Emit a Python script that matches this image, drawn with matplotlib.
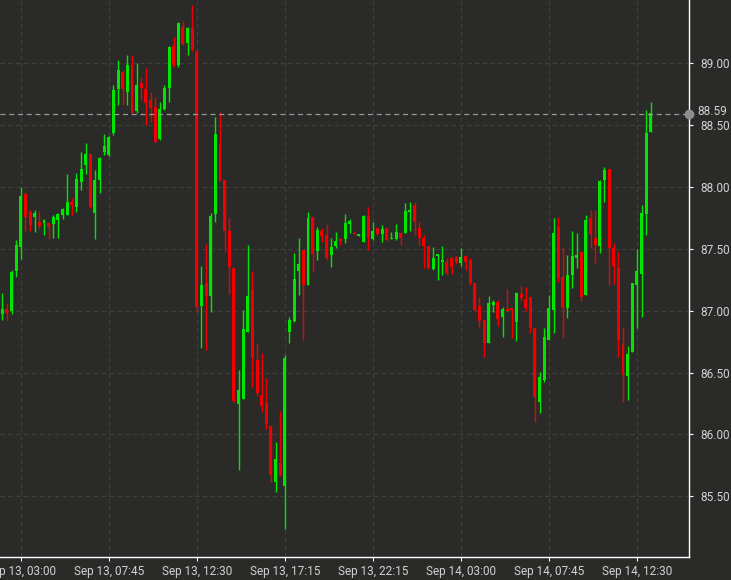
import matplotlib
matplotlib.use("Agg")
import matplotlib.pyplot as plt
import numpy as np

plt.rcParams['font.family'] = ['Roboto', 'DejaVu Sans']

opens = [86.97, 87.013, 86.997, 87.32, 87.516, 87.942, 87.80, 87.759, 87.718, 87.705,
         87.705, 87.697, 87.732, 87.772, 87.772, 87.88, 87.84, 88.04, 88.176, 88.265,
         87.788, 88.055, 88.284, 88.257, 88.432, 88.787, 88.93, 88.769, 88.984, 88.615,
         88.836, 88.787, 88.70, 88.647, 88.384, 88.626, 88.80, 89.137, 88.984, 89.294,
         89.16, 89.286, 89.097, 87.039, 87.222, 87.122, 87.779, 88.341, 88.057, 87.64,
         87.345, 86.246, 86.288, 86.83, 87.167, 86.602, 86.316, 86.254, 86.068, 85.615,
         85.768, 85.581, 86.83, 86.916, 87.32, 87.49, 87.207, 87.754, 87.482, 87.643,
         87.611, 87.449, 87.525, 87.579, 87.579, 87.697, 87.63, 87.605, 87.557, 87.767,
         87.579, 87.665, 87.616, 87.665, 87.578, 87.576, 87.63, 87.63, 87.794, 87.853,
         87.665, 87.589, 87.525, 87.336, 87.444, 87.395, 87.395, 87.428, 87.436, 87.382,
         87.441, 87.41, 87.22, 87.037, 86.924, 86.736, 87.045, 87.072, 86.946, 87.01,
         87.018, 86.911, 87.134, 87.091, 87.112, 86.857, 86.264, 86.439, 86.762, 87.005,
         87.678, 87.274, 87.018, 87.288, 87.422, 87.471, 87.126, 87.75, 87.584, 87.525,
         88.055, 88.144, 87.508, 87.342, 86.722, 86.472, 86.668, 87.207, 87.293, 87.78,
         88.44]
highs = [87.145, 87.06, 87.33, 87.57, 87.996, 87.96, 87.81, 87.81, 87.807, 87.74,
         87.71, 87.772, 87.79, 87.826, 88.103, 87.907, 88.109, 88.284, 88.35, 88.265,
         88.136, 88.24, 88.43, 88.41, 88.82, 89.024, 88.944, 89.065, 89.065, 89.003,
         88.884, 88.957, 88.769, 88.728, 88.688, 88.82, 89.137, 89.207, 89.334, 89.342,
         89.294, 89.467, 89.097, 87.359, 87.54, 87.79, 88.563, 88.605, 88.057, 87.751,
         87.345, 86.519, 87.006, 87.534, 87.317, 86.741, 86.658, 86.455, 86.068, 85.935,
         86.193, 86.644, 86.95, 87.463, 87.584, 87.49, 87.794, 87.754, 87.678, 87.665,
         87.697, 87.584, 87.638, 87.584, 87.78, 87.74, 87.632, 87.618, 87.772, 87.84,
         87.719, 87.67, 87.692, 87.665, 87.638, 87.697, 87.63, 87.867, 87.88, 87.88,
         87.713, 87.611, 87.525, 87.517, 87.455, 87.525, 87.422, 87.436, 87.44, 87.503,
         87.441, 87.422, 87.22, 87.112, 86.924, 87.118, 87.086, 87.086, 87.032, 87.172,
         87.018, 87.153, 87.199, 87.193, 87.112, 86.857, 86.507, 86.857, 87.126, 87.75,
         87.759, 87.516, 87.449, 87.643, 87.624, 87.471, 87.772, 87.813, 87.813, 88.055,
         88.163, 88.144, 87.543, 87.476, 86.87, 86.714, 87.22, 87.498, 87.853, 88.62,
         88.682]
lows = [86.924, 86.924, 86.97, 87.27, 87.417, 87.646, 87.646, 87.638, 87.656, 87.61,
        87.576, 87.584, 87.584, 87.74, 87.772, 87.772, 87.799, 87.975, 88.10, 87.826,
        87.576, 87.947, 88.257, 88.25, 88.418, 88.66, 88.66, 88.66, 88.594, 88.594,
        88.701, 88.499, 88.526, 88.365, 88.378, 88.62, 88.688, 88.97, 88.97, 89.145,
        89.065, 89.10, 86.992, 86.70, 86.686, 86.992, 87.715, 88.049, 87.478, 87.131,
        86.26, 85.712, 86.288, 86.83, 86.38, 86.31, 86.185, 86.046, 85.615, 85.531,
        85.665, 85.239, 86.736, 86.91, 87.126, 86.763, 87.207, 87.315, 87.409, 87.557,
        87.409, 87.355, 87.503, 87.53, 87.544, 87.624, 87.617, 87.603, 87.557, 87.49,
        87.57, 87.61, 87.552, 87.562, 87.578, 87.57, 87.53, 87.624, 87.643, 87.611,
        87.53, 87.347, 87.336, 87.328, 87.247, 87.288, 87.288, 87.293, 87.38, 87.363,
        87.328, 87.207, 86.99, 86.87, 86.628, 86.736, 86.991, 86.876, 86.79, 86.994,
        86.776, 86.757, 87.08, 86.999, 86.82, 86.103, 86.17, 86.426, 86.762, 86.816,
        87.234, 86.776, 86.938, 87.18, 87.342, 87.078, 87.126, 87.503, 87.382, 87.463,
        87.874, 87.207, 87.212, 86.628, 86.265, 86.278, 86.668, 86.857, 86.951, 87.611,
        88.44]
closes = [87.01, 86.983, 87.314, 87.53, 87.926, 87.753, 87.69, 87.79, 87.683, 87.732,
          87.678, 87.759, 87.78, 87.818, 87.88, 87.853, 88.06, 88.144, 88.265, 87.834,
          88.055, 88.23, 88.33, 88.405, 88.78, 88.944, 88.787, 88.984, 88.594, 88.822,
          88.80, 88.674, 88.634, 88.365, 88.626, 88.80, 89.13, 88.984, 89.326, 89.154,
          89.28, 89.106, 87.033, 87.211, 87.122, 87.765, 88.43, 88.049, 87.64, 87.353,
          86.268, 86.357, 86.853, 87.122, 86.624, 86.332, 86.227, 86.082, 85.67, 85.801,
          85.67, 86.616, 86.924, 87.255, 87.374, 87.207, 87.746, 87.455, 87.651, 87.605,
          87.422, 87.517, 87.565, 87.565, 87.705, 87.727, 87.619, 87.616, 87.767, 87.597,
          87.643, 87.616, 87.657, 87.57, 87.589, 87.632, 87.584, 87.807, 87.813, 87.719,
          87.589, 87.525, 87.342, 87.428, 87.455, 87.409, 87.301, 87.355, 87.39, 87.436,
          87.395, 87.22, 87.005, 86.919, 86.736, 87.064, 87.072, 86.929, 87.01, 86.994,
          87.005, 87.139, 87.099, 87.018, 86.857, 86.305, 86.466, 86.789, 87.018, 87.624,
          87.261, 87.018, 87.288, 87.441, 87.449, 87.113, 87.732, 87.616, 87.53, 88.047,
          88.136, 87.508, 87.363, 86.763, 86.48, 86.65, 87.22, 87.32, 87.786, 88.432,
          88.593]

tick_idx = [4, 23, 42, 61, 80, 99, 118, 137]
tick_labels = ["Sep 13, 03:00", "Sep 13, 07:45", "Sep 13, 12:30", "Sep 13, 17:15",
               "Sep 13, 22:15", "Sep 14, 03:00", "Sep 14, 07:45", "Sep 14, 12:30"]
y_ticks = [85.5, 86.0, 86.5, 87.0, 87.5, 88.0, 88.5, 89.0]
last_price = 88.59

BG = '#2a2b28'
UP = '#00e600'
DOWN = '#f20000'
TXT = '#d2d2d2'

o = np.array(opens); h = np.array(highs); l = np.array(lows); c = np.array(closes)
x = np.arange(len(o))
up = c >= o
colors = np.where(up, UP, DOWN)

fig = plt.figure(figsize=(7.31, 5.80), dpi=100, facecolor=BG)
ax = fig.add_axes([0.0, 23/580, 689/731, 557/580])
ax.set_facecolor(BG)

ax.vlines(x, l, h, colors=colors, linewidth=1.0, zorder=3)
body_bottom = np.minimum(o, c)
body_h = np.maximum(np.abs(c - o), 0.012)
ax.bar(x, body_h, bottom=body_bottom, width=0.64, color=colors, linewidth=0, zorder=4)

ax.set_xlim(-0.497, -0.497 + 689 / 4.632)
ax.set_ylim(85.01, 89.509)

ax.yaxis.tick_right()
ax.set_yticks(y_ticks)
ax.set_yticklabels([f"{v:.2f}" for v in y_ticks])
ax.set_xticks(tick_idx)
ax.set_xticklabels(tick_labels)
ax.tick_params(axis='both', colors='white', labelcolor=TXT, labelsize=8.5,
               length=3, width=0.8, direction='out')
ax.tick_params(axis='y', pad=5)
ax.tick_params(axis='x', pad=3)

for s in ['left', 'top']:
    ax.spines[s].set_visible(False)
for s in ['right', 'bottom']:
    ax.spines[s].set_color('white')
    ax.spines[s].set_linewidth(1.0)

ax.grid(True, color='#3f403d', linestyle=(0, (4, 3)), linewidth=0.8, zorder=0)

ax.axhline(last_price, color='#9a9a9a', linestyle=(0, (4, 3)), linewidth=0.9, zorder=5)
ax.plot([1.0], [last_price], marker='o', markersize=6, color='#8e8e8e',
        transform=ax.get_yaxis_transform(), clip_on=False, zorder=6)
ax.text(1.0 + 8 / 689, last_price + 0.02, f"{last_price:.2f}",
        transform=ax.get_yaxis_transform(),
        color=TXT, fontsize=8.5, va='center', ha='left')

fig.savefig("out.png", dpi=100, facecolor=BG)
